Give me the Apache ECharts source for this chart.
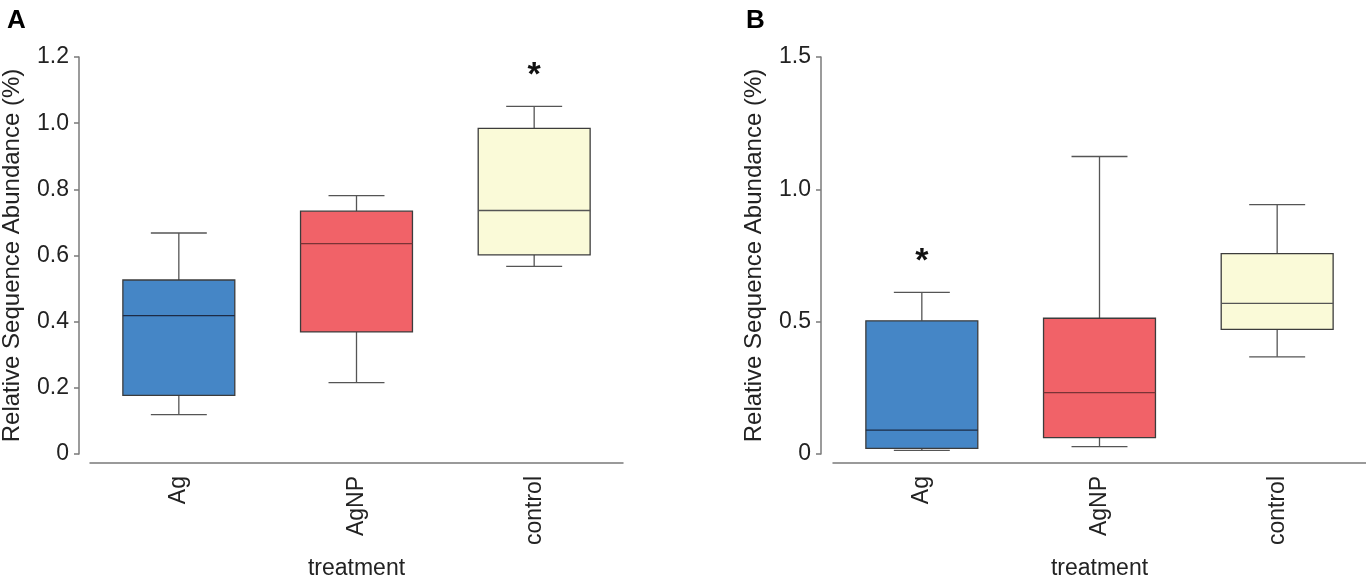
<!DOCTYPE html>
<html>
<head>
<meta charset="utf-8">
<script src="https://cdn.jsdelivr.net/npm/echarts@6/dist/echarts.min.js"></script>
<style>
html, body { margin: 0; padding: 0; background: #fff; }
#chart { width: 1366px; height: 579px; }
</style>
</head>
<body>
<div id="chart"></div>
<script>
// treatment groups
var categories = ['Ag', 'AgNP', 'control'];
// [low whisker, Q1, median, Q3, high whisker]
var boxA = [
	[0.119, 0.177, 0.418, 0.526, 0.668],
	[0.216, 0.369, 0.636, 0.734, 0.781],
	[0.567, 0.602, 0.736, 0.984, 1.051]
];
var boxB = [
	[0.014, 0.021, 0.090, 0.503, 0.611],
	[0.028, 0.062, 0.232, 0.513, 1.124],
	[0.367, 0.471, 0.569, 0.757, 0.942]
];
// significance marks [category, y]
var starA = [['control', 1.16]];
var starB = [['Ag', 0.745]];
var ticksA = { min: 0, max: 1.2, interval: 0.2 };
var ticksB = { min: 0, max: 1.5, interval: 0.5 };

var fills = ['#4586c6', '#f16268', '#fafad8'];
var medianColors = ['#1d2b45', '#7a3336', '#555555'];
var font = 'Liberation Sans, Arial, sans-serif';

function boxData(arr) {
	return arr.map(function(v, i) {
		return [i].concat(v);
	});
}

function renderBox(params, api) {
	var i = api.value(0);
	var x = api.coord([i, 0])[0];
	var w = api.size([1, 0])[0] * 0.63;
	var lo = api.coord([i, api.value(1)])[1];
	var q1 = api.coord([i, api.value(2)])[1];
	var md = api.coord([i, api.value(3)])[1];
	var q3 = api.coord([i, api.value(4)])[1];
	var hi = api.coord([i, api.value(5)])[1];
	var cap = w / 4;
	var wl = { stroke: '#555', lineWidth: 1.3 };
	return {
		type: 'group',
		children: [
			{ type: 'line', shape: { x1: x, y1: hi, x2: x, y2: q3 }, style: wl },
			{ type: 'line', shape: { x1: x - cap, y1: hi, x2: x + cap, y2: hi }, style: wl },
			{ type: 'line', shape: { x1: x, y1: q1, x2: x, y2: lo }, style: wl },
			{ type: 'line', shape: { x1: x - cap, y1: lo, x2: x + cap, y2: lo }, style: wl },
			{ type: 'rect', shape: { x: x - w / 2, y: q3, width: w, height: q1 - q3 },
				style: { fill: fills[i], stroke: '#3c3c3c', lineWidth: 1.3 } },
			{ type: 'line', shape: { x1: x - w / 2, y1: md, x2: x + w / 2, y2: md },
				style: { stroke: medianColors[i], lineWidth: 1.3 } }
		]
	};
}

function renderStar(params, api) {
	var p = api.coord([api.value(0), api.value(1)]);
	return {
		type: 'text',
		style: {
			text: '*', x: p[0], y: p[1] + 5,
			font: 'bold 34px ' + font,
			fill: '#111', align: 'center', verticalAlign: 'middle'
		}
	};
}

function xAxisOpt(gi) {
	return {
		type: 'category', gridIndex: gi, data: categories,
		offset: 9,
		name: 'treatment', nameLocation: 'middle', nameGap: 94,
		nameTextStyle: { fontFamily: font, fontSize: 23, color: '#222' },
		axisLine: { onZero: false, lineStyle: { color: '#7a7a7a', width: 1.5 } },
		axisTick: { alignWithLabel: true, length: 5, lineStyle: { color: '#7a7a7a', width: 1.5 } },
		axisLabel: { rotate: 90, margin: 13, fontFamily: font, fontSize: 23, color: '#222' },
		splitLine: { show: false }
	};
}

function yAxisOpt(gi, t, off) {
	return {
		type: 'value', gridIndex: gi, min: t.min, max: t.max, interval: t.interval,
		offset: off,
		name: 'Relative Sequence Abundance (%)', nameLocation: 'middle', nameGap: 55,
		nameTextStyle: { fontFamily: font, fontSize: 24, color: '#222' },
		axisLine: { show: true, onZero: false, lineStyle: { color: '#7a7a7a', width: 1.5 } },
		axisTick: { show: true, length: 5, lineStyle: { color: '#7a7a7a', width: 1.5 } },
		axisLabel: {
			margin: 10, fontFamily: font, fontSize: 23, color: '#222',
			formatter: function(v) { return v === 0 ? '0' : v.toFixed(1); }
		},
		splitLine: { show: false }
	};
}

var chart = echarts.init(document.getElementById('chart'));
chart.setOption({
	backgroundColor: '#fff',
	animation: false,
	title: [
		{ text: 'A', left: 2, top: 3, textStyle: { fontFamily: font, fontSize: 26, fontWeight: 'bold', color: '#000' } },
		{ text: 'B', left: 741, top: 3, textStyle: { fontFamily: font, fontSize: 26, fontWeight: 'bold', color: '#000' } }
	],
	grid: [
		{ left: 90, top: 57, width: 533, height: 397, outerBoundsMode: 'none', containLabel: false },
		{ left: 833, top: 57, width: 533, height: 397, outerBoundsMode: 'none', containLabel: false }
	],
	xAxis: [xAxisOpt(0), xAxisOpt(1)],
	yAxis: [yAxisOpt(0, ticksA, 11), yAxisOpt(1, ticksB, 12)],
	series: [
		{ type: 'custom', xAxisIndex: 0, yAxisIndex: 0, data: boxData(boxA), renderItem: renderBox, encode: { x: 0, y: [1, 2, 3, 4, 5] } },
		{ type: 'custom', xAxisIndex: 1, yAxisIndex: 1, data: boxData(boxB), renderItem: renderBox, encode: { x: 0, y: [1, 2, 3, 4, 5] } },
		{ type: 'custom', xAxisIndex: 0, yAxisIndex: 0, data: starA, renderItem: renderStar },
		{ type: 'custom', xAxisIndex: 1, yAxisIndex: 1, data: starB, renderItem: renderStar }
	]
});
</script>
</body>
</html>
